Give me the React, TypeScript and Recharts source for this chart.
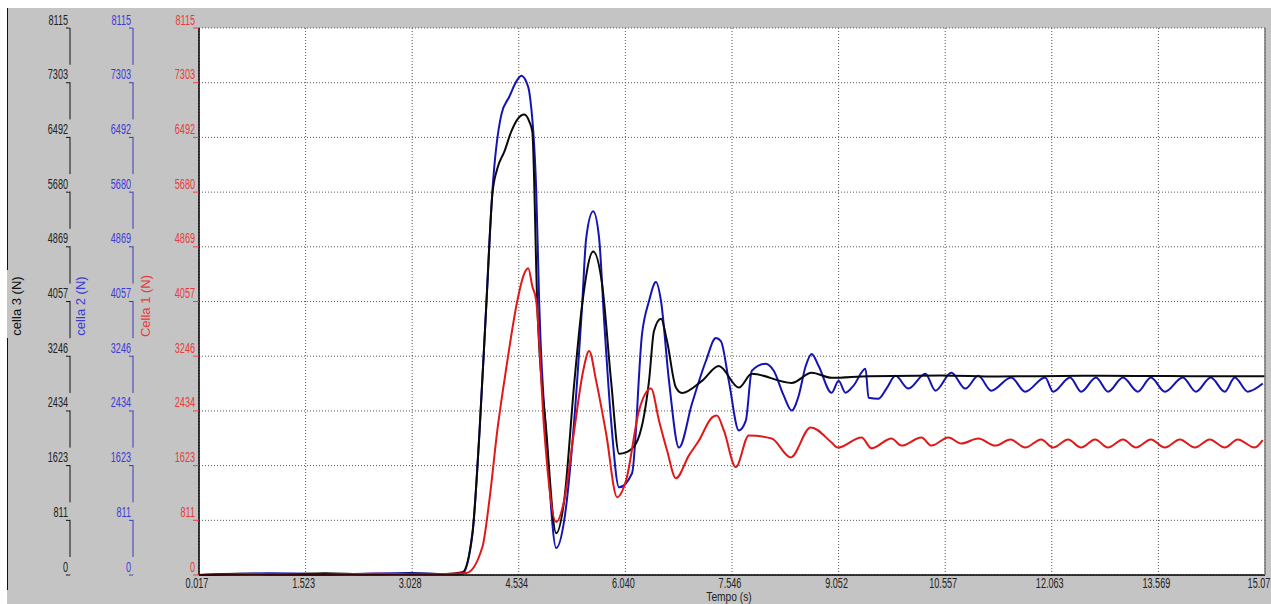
import { ComposedChart, Line, XAxis, YAxis, CartesianGrid } from "recharts";

const PANEL = "#c4c4c4";
const FONT = "Liberation Sans, Arial, sans-serif";

const timeTicks = [0.017, 1.523, 3.028, 4.534, 6.04, 7.546, 9.052, 10.557, 12.063, 13.569, 15.075];
const timeLabels = ["0.017", "1.523", "3.028", "4.534", "6.040", "7.546", "9.052", "10.557", "12.063", "13.569", "15.07"];
const forceTicks = [0, 811, 1623, 2434, 3246, 4057, 4869, 5680, 6492, 7303, 8115];

// cella 3 (black)
const blackT = [0.017, 0.6, 1.2, 1.8, 2.4, 3.0, 3.5, 3.738, 3.879, 3.978, 4.076, 4.161, 4.231, 4.33, 4.429, 4.513, 4.612, 4.683, 4.725, 4.795, 4.922, 5.063, 5.176, 5.317, 5.43, 5.585, 5.711, 5.838, 5.951, 6.05, 6.19, 6.374, 6.444, 6.543, 6.628, 6.754, 6.839, 7.121, 7.36, 7.643, 7.826, 8.389, 8.671, 8.953, 9.475, 10.5, 11.3, 12.5, 14.0, 15.075];
const blackV = [0, 20, 10, 25, 10, 20, 15, 40, 620, 2100, 4020, 5645, 6030, 6280, 6580, 6755, 6830, 6725, 6580, 4020, 2145, 620, 1110, 2840, 4020, 4800, 4315, 2880, 1800, 1820, 1950, 2880, 3620, 3800, 3470, 2780, 2700, 2880, 3100, 2780, 2985, 2850, 3000, 2925, 2950, 2960, 2945, 2955, 2950, 2950];

// cella 2 (blue)
const blueT = [0.017, 1.0, 2.0, 3.0, 3.6, 3.738, 3.879, 3.978, 4.076, 4.161, 4.288, 4.4, 4.513, 4.57, 4.64, 4.682, 4.781, 4.823, 4.936, 5.063, 5.176, 5.317, 5.43, 5.486, 5.585, 5.669, 5.74, 5.838, 5.951, 6.134, 6.275, 6.374, 6.472, 6.543, 6.656, 6.797, 6.98, 7.177, 7.318, 7.389, 7.501, 7.643, 7.741, 7.826, 8.023, 8.136, 8.277, 8.389, 8.488, 8.587, 8.671, 8.77, 8.953, 9.052, 9.15, 9.263, 9.432, 9.475, 9.616, 9.728, 9.855, 10.038, 10.278, 10.419, 10.645, 10.842, 11.025, 11.208, 11.49, 11.687, 11.969, 12.082, 12.322, 12.477, 12.688, 12.857, 13.069, 13.28, 13.463, 13.661, 13.914, 14.098, 14.309, 14.507, 14.648, 14.831, 15.043];
const blueV = [0, 25, 15, 30, 10, 20, 600, 2100, 4020, 5690, 6830, 7095, 7345, 7405, 7315, 7170, 5690, 4020, 1850, 400, 810, 2290, 4020, 4995, 5395, 4995, 3770, 2290, 1300, 1510, 3575, 4065, 4345, 4065, 2880, 1890, 2540, 3175, 3515, 3470, 2880, 2145, 2290, 3030, 3135, 3030, 2660, 2440, 2660, 3100, 3280, 3100, 2705, 2880, 2705, 2810, 3060, 2630, 2615, 2765, 2955, 2765, 2985, 2735, 3000, 2765, 2955, 2735, 2930, 2720, 2930, 2720, 2930, 2720, 2930, 2720, 2930, 2720, 2930, 2720, 2930, 2720, 2930, 2720, 2930, 2720, 2840];

// Cella 1 (red)
const redT = [0.017, 0.8, 1.6, 2.5, 3.3, 3.795, 4.02, 4.119, 4.231, 4.358, 4.513, 4.598, 4.668, 4.725, 4.781, 4.894, 5.063, 5.176, 5.317, 5.444, 5.528, 5.627, 5.768, 5.923, 6.05, 6.233, 6.402, 6.515, 6.628, 6.754, 6.938, 7.079, 7.262, 7.332, 7.431, 7.6, 7.783, 8.107, 8.375, 8.657, 8.953, 9.037, 9.376, 9.517, 9.799, 9.94, 10.222, 10.363, 10.602, 10.785, 11.025, 11.264, 11.48, 11.687, 11.913, 12.082, 12.293, 12.477, 12.674, 12.857, 13.069, 13.252, 13.463, 13.661, 13.872, 14.084, 14.295, 14.507, 14.69, 14.929, 15.043];
const redV = [0, 15, 5, 20, 10, 30, 415, 1110, 2145, 3075, 4065, 4435, 4550, 4285, 4065, 2145, 785, 1110, 2145, 3030, 3325, 2880, 2100, 1155, 1405, 2440, 2765, 2290, 1850, 1435, 1775, 1995, 2335, 2365, 2145, 1600, 2070, 2025, 1745, 2190, 1965, 1890, 2040, 1880, 2025, 1920, 2040, 1920, 2040, 1950, 2025, 1920, 2010, 1890, 2010, 1890, 2010, 1890, 2010, 1890, 2010, 1890, 2010, 1890, 2010, 1890, 2010, 1890, 2010, 1890, 2000];

const toRows = (ts: number[], vs: number[]) => ts.map((t, i) => ({ t, v: vs[i] }));
const blackData = toRows(blackT, blackV);
const blueData = toRows(blueT, blueV);
const redData = toRows(redT, redV);

// tick label sits just above its tick; the axis line is cut where the label is
function yTick(color: string, tickLen: number, gap: number, cutLine: boolean) {
  return (props: any) => {
    const { x, y, payload } = props;
    const lineX = x + tickLen;
    return (
      <g>
        {cutLine && <rect x={lineX - 2} y={y - 18} width={4} height={17.4} fill={PANEL} />}
        <text
          transform={`translate(${lineX - gap},${y - 3.5}) scale(0.65,1)`}
          textAnchor="end"
          fill={color}
          fontSize={14}
          fontFamily={FONT}
        >
          {payload.value}
        </text>
      </g>
    );
  };
}

const xTick = (props: any) => {
  const { x, y, payload } = props;
  const i = timeTicks.indexOf(payload.value);
  const last = i === timeTicks.length - 1;
  return (
    <text transform={`translate(${x - (last ? 6 : 2)},${y + 13}) scale(0.65,1)`} textAnchor="middle" fill="#222" fontSize={14} fontFamily={FONT}>
      {i >= 0 ? timeLabels[i] : payload.value}
    </text>
  );
};

function axisTitle(text: string, color: string, dx: number) {
  return (props: any) => {
    const vb = props.viewBox;
    const cx = vb.x + dx;
    const cy = vb.y + vb.height / 2 + 4.5;
    return (
      <text x={cx} y={cy} transform={`rotate(-90 ${cx} ${cy})`} textAnchor="middle" fill={color} fontSize={13} fontFamily={FONT}>
        {text}
      </text>
    );
  };
}

const timeTitle = (props: any) => {
  const vb = props.viewBox;
  const cx = vb.x + vb.width / 2 - 3;
  return (
    <text transform={`translate(${cx},${vb.y + 26}) scale(0.85,1)`} textAnchor="middle" fill="#222" fontSize={12} fontFamily={FONT}>
      Tempo (s)
    </text>
  );
};

export default function App() {
  return (
    <div style={{ position: "absolute", left: 0, top: 0, width: 1271, height: 604, background: "#fff", overflow: "hidden" }}>
      <div style={{ position: "absolute", left: 7, top: 8, right: 0, bottom: 0, background: PANEL }} />
      <div style={{ position: "absolute", left: 7, top: 8, width: 1, height: 262, background: "#111" }} />
      <div style={{ position: "absolute", left: 7, top: 338, width: 1, height: 252, background: "#111" }} />
      <div style={{ position: "absolute", left: 0, top: 0 }}>
        <ComposedChart width={1271} height={604} margin={{ top: 28, right: 0, bottom: 0, left: 0 }}>
          <CartesianGrid
            xAxisId="t"
            yAxisId="c1"
            fill="#fff"
            stroke="#555"
            strokeDasharray="1 2"
            horizontalValues={forceTicks}
            verticalValues={timeTicks}
          />
          <XAxis
            xAxisId="t"
            dataKey="t"
            type="number"
            domain={[0.017, 15.075]}
            ticks={timeTicks}
            interval={0}
            height={29}
            tickSize={0}
            tickMargin={0}
            tickLine={false}
            axisLine={{ stroke: "#000", strokeWidth: 1.5 }}
            tick={xTick}
            label={timeTitle}
            allowDataOverflow
          />
          <XAxis xAxisId="top" type="number" orientation="top" domain={[0.017, 15.075]} height={0} tick={false} tickLine={false} axisLine={{ stroke: "#111", strokeWidth: 1.5 }} />
          <YAxis
            yAxisId="c1"
            type="number"
            domain={[0, 8115]}
            ticks={forceTicks}
            interval={0}
            width={66}
            tickSize={6}
            tickMargin={0}
            axisLine={{ stroke: "#000", strokeWidth: 1.5 }}
            tickLine={{ stroke: "#e44" }}
            tick={yTick("#e53b3b", 6, 4, false)}
            label={axisTitle("Cella 1 (N)", "#e53b3b", 17)}
          />
          <YAxis
            yAxisId="c2"
            type="number"
            domain={[0, 8115]}
            ticks={forceTicks}
            interval={0}
            width={63}
            tickSize={4}
            tickMargin={0}
            axisLine={{ stroke: "#3a3ab8" }}
            tickLine={{ stroke: "#3a3ab8" }}
            tick={yTick("#3b3bd6", 4, 2, true)}
            label={axisTitle("cella 2 (N)", "#3b3bd6", 15)}
          />
          <YAxis
            yAxisId="c3"
            type="number"
            domain={[0, 8115]}
            ticks={forceTicks}
            interval={0}
            width={70}
            tickSize={4}
            tickMargin={0}
            axisLine={{ stroke: "#111" }}
            tickLine={{ stroke: "#111" }}
            tick={yTick("#222", 4, 2, true)}
            label={axisTitle("cella 3 (N)", "#111", 21)}
          />
          <YAxis yAxisId="r" orientation="right" type="number" domain={[0, 8115]} width={6} tick={false} tickLine={false} axisLine={{ stroke: "#777", strokeWidth: 1.5 }} />
          <Line xAxisId="t" yAxisId="c2" data={blueData} dataKey="v" type="monotone" stroke="#1414b4" strokeWidth={2} dot={false} isAnimationActive={false} />
          <Line xAxisId="t" yAxisId="c3" data={blackData} dataKey="v" type="monotone" stroke="#0a0a0a" strokeWidth={2} dot={false} isAnimationActive={false} />
          <Line xAxisId="t" yAxisId="c1" data={redData} dataKey="v" type="monotone" stroke="#e01818" strokeWidth={2} dot={false} isAnimationActive={false} />
        </ComposedChart>
      </div>
    </div>
  );
}
